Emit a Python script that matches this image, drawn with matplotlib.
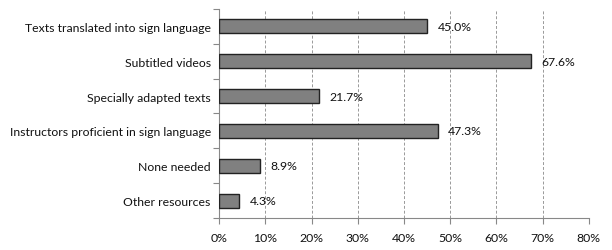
import matplotlib
matplotlib.use("Agg")
import matplotlib.pyplot as plt
from matplotlib.ticker import FixedLocator, NullFormatter

categories = [
    "Texts translated into sign language",
    "Subtitled videos",
    "Specially adapted texts",
    "Instructors proficient in sign language",
    "None needed",
    "Other resources",
]
values = [45.0, 67.6, 21.7, 47.3, 8.9, 4.3]
xticks = [0, 10, 20, 30, 40, 50, 60, 70, 80]

plt.rcParams['font.family'] = ['Lato', 'DejaVu Sans']
fs = 8.8

fig = plt.figure(figsize=(6.12, 2.51), dpi=100)
ax = fig.add_axes([0.358, 0.1275, 0.604, 0.833])

pos = list(range(len(categories)))
ax.barh(pos, values, height=0.4, color='#808080', edgecolor='#222222', linewidth=1.0, zorder=3)

for p, v in zip(pos, values):
    ax.annotate(f"{v:.1f}%", (v, p), xytext=(7.5, 0), textcoords='offset points',
                va='center', ha='left', fontsize=fs, color='#111111')

ax.set_xlim(0, 80)
ax.set_ylim(len(categories) - 0.5, -0.5)
ax.set_xticks(xticks)
ax.set_xticklabels([f"{t}%" for t in xticks], fontsize=fs, color='#111111')

# labels at category centres, tick marks at the boundaries
ax.set_yticks(pos)
ax.set_yticklabels(categories, fontsize=fs, color='#111111')
ax.tick_params(axis='y', which='major', length=0, pad=6)
ax.yaxis.set_minor_locator(FixedLocator([p - 0.5 for p in range(len(categories) + 1)]))
ax.yaxis.set_minor_formatter(NullFormatter())
ax.tick_params(axis='y', which='minor', length=4, color='#888888', width=0.8)
ax.tick_params(axis='x', length=4, color='#888888', width=0.8, pad=6)

ax.grid(axis='x', linestyle=(0, (3, 2)), color='#999999', linewidth=0.7, zorder=0)

for s in ['top', 'right']:
    ax.spines[s].set_visible(False)
for s in ['left', 'bottom']:
    ax.spines[s].set_color('#888888')
    ax.spines[s].set_linewidth(0.8)

fig.savefig("out.png", dpi=100)
